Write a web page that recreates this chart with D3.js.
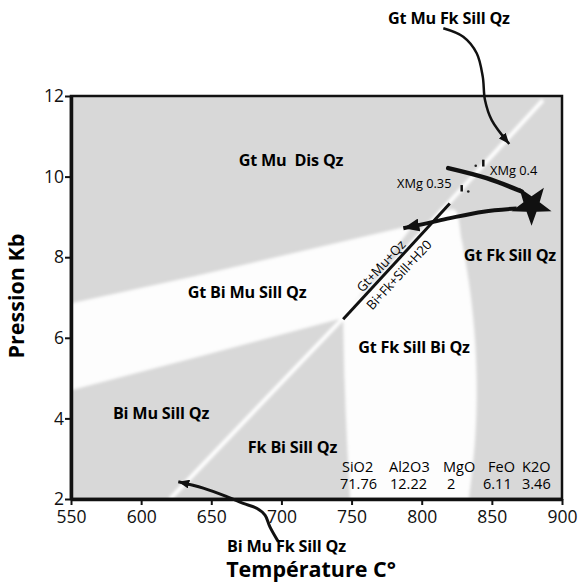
<!DOCTYPE html>
<html>
<head>
<meta charset="utf-8">
<script src="https://cdn.jsdelivr.net/npm/d3@7"></script>
<style>
  body { margin: 0; background: #fff; }
  text { font-family: "Open Sans", sans-serif; }
</style>
</head>
<body>
<div id="chart"></div>
<script>
// axis ticks
var tempTicks = [550, 600, 650, 700, 750, 800, 850, 900];
var presTicks = [2, 4, 6, 8, 10, 12];

// field boundaries, [T °C, P kb]
var bandGtBiMu = [[550, 6.86], [637, 7.52], [794, 8.80], [744, 6.49], [645, 5.57], [550, 4.70]];
var crescentRight = [[816, 9.15], [823.7, 9.17], [828.5, 8.43], [834.4, 7.19], [838, 5.95], [839.2, 4.70], [838, 3.46], [833.7, 2.0]];
var crescentLeft = [[749, 2.0], [746.7, 3.46], [745, 4.95], [744, 6.49]];
var diagonal = [[620.6, 2.0], [744, 6.49], [886.4, 11.9]];
var reaction = [[744, 6.46], [820, 9.33]];

// P-T path and arrows
var pathIn = [[818.9, 10.21], [846.3, 9.96], [871.3, 9.63]];
var pathOut = [[867.7, 9.21], [843.9, 9.13], [820.2, 8.97], [803.5, 8.84], [786.9, 8.72]];
var arrowTop = [[815.4, 13.68], [829.6, 13.47], [839.2, 13.06], [843.5, 12.48], [845.1, 11.90], [849.9, 11.40], [862.4, 10.81]];
var arrowBottom = [[697.8, 0.94], [691.8, 1.31], [688.3, 1.60], [682.4, 1.77], [672.8, 1.89], [661.0, 2.06], [644.3, 2.27], [626.5, 2.43]];
var peak = [878.3, 9.30];

// XMg isopleth marks
var xmgMarks = [[[843.9, 10.42], [843.9, 10.25]], [[828.5, 9.79], [828.5, 9.63]]];
var xmgDots = [[838.5, 10.27], [833.2, 9.63]];
var xmgLabels = [{name: "XMg 0.4", T: 848.7, P: 10.16}, {name: "XMg 0.35", T: 782.4, P: 9.84}];

// assemblage labels
var fields = [
  {name: "Gt Mu  Dis Qz", T: 706.8, P: 10.41},
  {name: "Gt Bi Mu Sill Qz", T: 675.5, P: 7.14},
  {name: "Bi Mu Sill Qz", T: 614.2, P: 4.13},
  {name: "Fk Bi Sill Qz", T: 707.9, P: 3.28},
  {name: "Gt Fk Sill Bi Qz", T: 794.5, P: 5.77},
  {name: "Gt Fk Sill Qz", T: 862.9, P: 8.05},
  {name: "Gt Mu Fk Sill Qz", T: 819.4, P: 13.94},
  {name: "Bi Mu Fk Sill Qz", T: 703.6, P: 0.83}
];
var reactionLabels = [
  {name: "Gt+Mu+Qz", T: 771.0, P: 7.78},
  {name: "Bi+Fk+Sill+H20", T: 783.8, P: 7.56}
];

// bulk composition
var oxides = ["SiO2", "Al2O3", "MgO", "FeO", "K2O"];
var oxideValues = ["71.76", "12.22", "2", "6.11", "3.46"];

var svg = d3.select("#chart").append("svg")
  .attr("width", 579)
  .attr("height", 586);

var x = d3.scaleLinear().domain([550, 900]).range([71, 562]);
var y = d3.scaleLinear().domain([2, 12]).range([499, 96]);

var defs = svg.append("defs");
defs.append("clipPath").attr("id", "plot")
  .append("rect").attr("x", 71).attr("y", 96).attr("width", 491).attr("height", 403);
defs.append("filter").attr("id", "soft")
  .append("feGaussianBlur").attr("stdDeviation", 1.6);

function arrowMarker(id, len, wid) {
  defs.append("marker")
    .attr("id", id)
    .attr("viewBox", (-len) + " " + (-wid / 2) + " " + len + " " + wid)
    .attr("refX", 0).attr("refY", 0)
    .attr("markerWidth", len).attr("markerHeight", wid)
    .attr("markerUnits", "userSpaceOnUse")
    .attr("orient", "auto")
    .append("path")
      .attr("d", "M0,0L" + (-len) + "," + (-wid / 2) + "L" + (-len) + "," + (wid / 2) + "Z")
      .attr("fill", "#111");
}
arrowMarker("headBig", 16, 13);
arrowMarker("headSmall", 11, 9);

var px = function(d) { return x(d[0]); };
var py = function(d) { return y(d[1]); };
var smooth = d3.line().x(px).y(py).curve(d3.curveCatmullRom);
var straight = d3.line().x(px).y(py);

// background and fields
var plot = svg.append("g").attr("clip-path", "url(#plot)");
plot.append("rect")
  .attr("x", 71).attr("y", 96).attr("width", 491).attr("height", 403)
  .attr("fill", "#d8d8d8");

var fieldsG = plot.append("g").attr("filter", "url(#soft)");
fieldsG.append("path")
  .attr("d", straight(bandGtBiMu) + "Z")
  .attr("fill", "#fdfdfd");
fieldsG.append("path")
  .attr("d", smooth(crescentRight) + "L" + smooth(crescentLeft).slice(1) + "Z")
  .attr("fill", "#fdfdfd");
fieldsG.append("path")
  .attr("d", straight(diagonal))
  .attr("fill", "none")
  .attr("stroke", "#fff")
  .attr("stroke-width", 4);

// reaction line
svg.append("path")
  .attr("d", straight(reaction))
  .attr("stroke", "#111")
  .attr("stroke-width", 3)
  .attr("fill", "none");

var ang = Math.atan2(y(reaction[1][1]) - y(reaction[0][1]), x(reaction[1][0]) - x(reaction[0][0])) * 180 / Math.PI;
svg.selectAll(".rxn").data(reactionLabels).enter().append("text")
  .attr("transform", function(d) {
    return "translate(" + x(d.T) + "," + y(d.P) + ") rotate(" + ang + ")";
  })
  .attr("text-anchor", "middle")
  .attr("dy", "0.35em")
  .attr("font-size", 13)
  .text(function(d) { return d.name; });

// P-T path
svg.append("path")
  .attr("d", smooth(pathIn))
  .attr("stroke", "#111").attr("stroke-width", 4.5)
  .attr("stroke-linecap", "round").attr("fill", "none");
svg.append("path")
  .attr("d", smooth(pathOut))
  .attr("stroke", "#111").attr("stroke-width", 4)
  .attr("fill", "none")
  .attr("marker-end", "url(#headBig)");

// star at peak conditions
var starPts = d3.range(10).map(function(i) {
  return [i * Math.PI / 5 + Math.PI, i % 2 ? 8.5 : 21];
});
svg.append("path")
  .attr("d", d3.lineRadial().curve(d3.curveLinearClosed)(starPts))
  .attr("transform", "translate(" + x(peak[0]) + "," + y(peak[1]) + ")")
  .attr("fill", "#111");

// leader arrows
svg.append("path")
  .attr("d", smooth(arrowTop))
  .attr("stroke", "#111").attr("stroke-width", 2.5)
  .attr("fill", "none")
  .attr("marker-end", "url(#headSmall)");
svg.append("path")
  .attr("d", smooth(arrowBottom))
  .attr("stroke", "#111").attr("stroke-width", 3)
  .attr("fill", "none")
  .attr("marker-end", "url(#headSmall)");

// XMg marks
svg.selectAll(".xmgMark").data(xmgMarks).enter().append("path")
  .attr("d", straight)
  .attr("stroke", "#111").attr("stroke-width", 2.5);
svg.selectAll(".xmgDot").data(xmgDots).enter().append("circle")
  .attr("cx", px).attr("cy", py).attr("r", 1.3).attr("fill", "#222");
svg.selectAll(".xmgLabel").data(xmgLabels).enter().append("text")
  .attr("x", function(d) { return x(d.T); })
  .attr("y", function(d) { return y(d.P); })
  .attr("dy", "0.35em")
  .attr("font-size", 12.8)
  .text(function(d) { return d.name; });

// assemblage labels
svg.selectAll(".field").data(fields).enter().append("text")
  .attr("x", function(d) { return x(d.T); })
  .attr("y", function(d) { return y(d.P); })
  .attr("dy", "0.36em")
  .attr("text-anchor", "middle")
  .attr("font-size", 16.2)
  .attr("font-weight", 700)
  .attr("letter-spacing", -0.2)
  .style("white-space", "pre")
  .text(function(d) { return d.name; });

// bulk composition block
var colX = [342, 389, 443, 488, 522];
var valX = [340, 390, 447, 483, 522];
svg.selectAll(".ox").data(oxides).enter().append("text")
  .attr("x", function(d, i) { return colX[i]; })
  .attr("y", 472)
  .attr("font-size", 14.5)
  .text(function(d) { return d; });
svg.selectAll(".oxv").data(oxideValues).enter().append("text")
  .attr("x", function(d, i) { return valX[i]; })
  .attr("y", 489)
  .attr("font-size", 14.5)
  .text(function(d) { return d; });

// frame and axes
svg.append("rect")
  .attr("x", 71).attr("y", 96).attr("width", 491).attr("height", 403)
  .attr("fill", "none").attr("stroke", "#111").attr("stroke-width", 2.5);

var yAxis = svg.append("g")
  .attr("transform", "translate(71,0)")
  .call(d3.axisLeft(y).tickValues(presTicks).tickSize(6).tickSizeOuter(0).tickPadding(1));
var xAxis = svg.append("g")
  .attr("transform", "translate(0,499)")
  .call(d3.axisBottom(x).tickValues(tempTicks).tickSize(6).tickSizeOuter(0).tickPadding(6));

[xAxis, yAxis].forEach(function(a) {
  a.select(".domain").attr("stroke", "#111").attr("stroke-width", 3.5);
  a.selectAll(".tick line").attr("stroke", "#111").attr("stroke-width", 2);
  a.selectAll(".tick text")
    .attr("fill", "#111")
    .style("font-family", "'Open Sans', sans-serif")
    .style("font-size", "17.5px");
});

svg.append("text")
  .attr("x", 311).attr("y", 577)
  .attr("text-anchor", "middle")
  .attr("font-size", 21.5)
  .attr("font-weight", 700)
  .text("Température C°");

svg.append("text")
  .attr("transform", "translate(24,296) rotate(-90)")
  .attr("text-anchor", "middle")
  .attr("font-size", 21.5)
  .attr("font-weight", 700)
  .text("Pression Kb");
</script>
</body>
</html>
